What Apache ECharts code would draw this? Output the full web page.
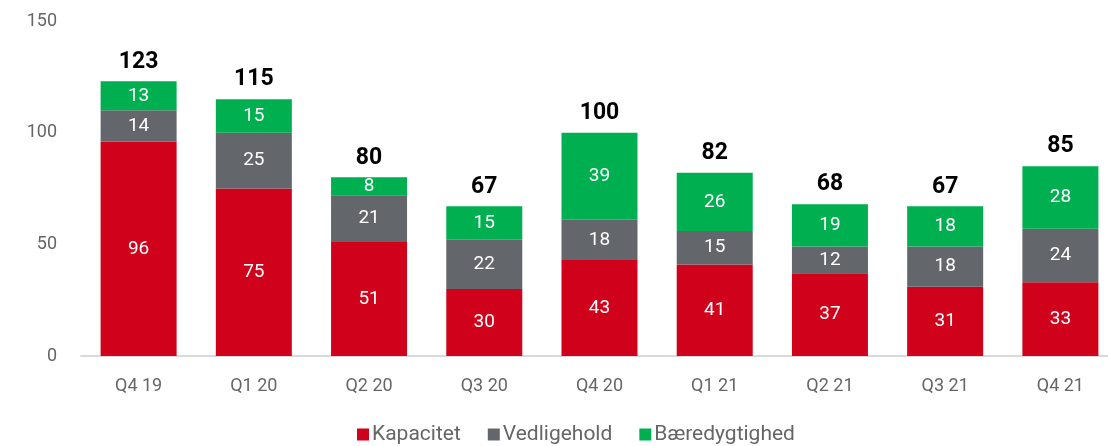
<!DOCTYPE html>
<html>
<head>
<meta charset="utf-8">
<script src="https://cdn.jsdelivr.net/npm/echarts@6/dist/echarts.min.js"></script>
<style>
  html, body { margin: 0; padding: 0; background: #fff; }
  #chart { width: 1108px; height: 446px; }
</style>
</head>
<body>
<div id="chart"></div>
<script>
var quarters = ['Q4 19', 'Q1 20', 'Q2 20', 'Q3 20', 'Q4 20', 'Q1 21', 'Q2 21', 'Q3 21', 'Q4 21'];
var kapacitet = [96, 75, 51, 30, 43, 41, 37, 31, 33];
var vedligehold = [14, 25, 21, 22, 18, 15, 12, 18, 24];
var baeredygtighed = [13, 15, 8, 15, 39, 26, 19, 18, 28];
var totals = [123, 115, 80, 67, 100, 82, 68, 67, 85];
var yTicks = [0, 50, 100, 150];

var font = 'Roboto, "Liberation Sans", sans-serif';

function inner(name, data, color) {
    return {
        name: name,
        type: 'bar',
        stack: 'all',
        barWidth: 76,
        data: data,
        itemStyle: { color: color },
        label: {
            show: true,
            position: 'inside',
            color: '#fff',
            fontSize: 19,
            fontFamily: font
        }
    };
}

var myChart = echarts.init(document.getElementById('chart'));
var option = {
    animation: false,
    textStyle: { fontFamily: font },
    grid: { left: 81, top: 21, bottom: 90, width: 1037, outerBoundsMode: 'none', containLabel: false },
    legend: {
        bottom: -4,
        left: 352,
        itemWidth: 12,
        itemHeight: 12,
        itemGap: 27,
        icon: 'rect',
        textStyle: { color: '#666', fontSize: 21, fontFamily: font, padding: [0, 0, 0, -2] },
        data: ['Kapacitet', 'Vedligehold', 'Bæredygtighed']
    },
    xAxis: {
        type: 'category',
        data: quarters,
        axisLine: { lineStyle: { color: '#d9d9d9', width: 2 } },
        axisTick: { show: false },
        axisLabel: { color: '#666', fontSize: 18, margin: 21, fontFamily: font }
    },
    yAxis: {
        type: 'value',
        min: yTicks[0],
        max: yTicks[yTicks.length - 1],
        interval: 50,
        splitLine: { show: false },
        axisLabel: { color: '#666', fontSize: 18, margin: 24, fontFamily: font }
    },
    series: [
        inner('Kapacitet', kapacitet, '#d0021b'),
        inner('Vedligehold', vedligehold, '#63666a'),
        inner('Bæredygtighed', baeredygtighed, '#00b050'),
        {
            name: 'Total',
            type: 'bar',
            stack: 'all',
            barWidth: 76,
            data: totals.map(function () { return 0; }),
            itemStyle: { color: 'transparent' },
            label: {
                show: true,
                position: 'top',
                distance: 8,
                color: '#000',
                fontSize: 23,
                fontWeight: 'bold',
                fontFamily: font,
                formatter: function (p) { return totals[p.dataIndex]; }
            }
        }
    ]
};
myChart.setOption(option);
</script>
</body>
</html>
